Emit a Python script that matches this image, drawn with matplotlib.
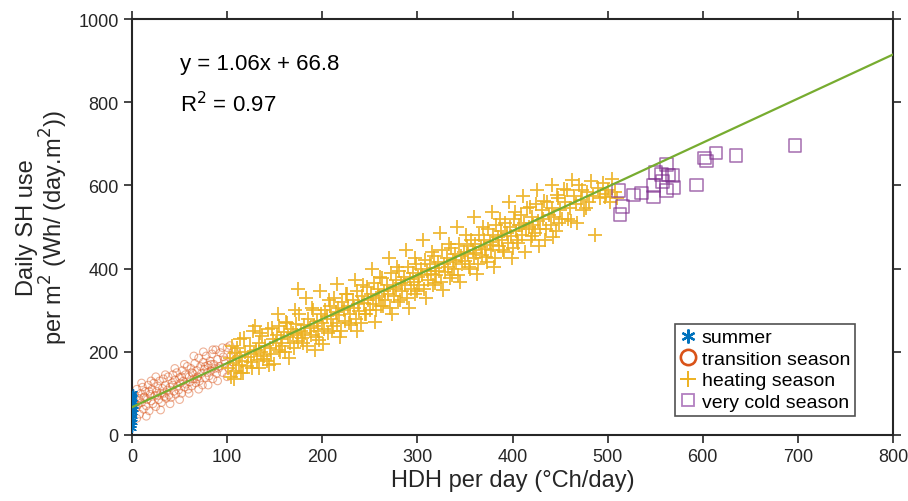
import numpy as np
import matplotlib.pyplot as plt
from matplotlib.lines import Line2D

plt.rcParams['font.family'] = ['Liberation Sans', 'DejaVu Sans']

# summer days (x ~ 0)
summer_x = [0, 0.5, 1, 0, 1.5, 0.5, 1, 0, 2, 0.5, 1, 0, 1.5, 0.5, 1, 0, 0.5, 1, 2, 0.5]
summer_y = [18, 25, 32, 40, 45, 50, 55, 60, 63, 68, 72, 76, 80, 84, 88, 92, 96, 100, 70, 58]

# transition season
trans_x = [1, 2, 3, 4, 5, 6, 7, 8, 9, 10, 11, 12, 13, 14, 15, 16, 17, 18, 19, 20,
           21, 22, 23, 24, 25, 26, 27, 28, 29, 30, 31, 32, 33, 34, 35, 36, 37, 38, 39, 40,
           41, 42, 43, 44, 45, 46, 47, 48, 49, 50, 51, 52, 53, 54, 55, 56, 57, 58, 59, 60,
           61, 62, 63, 64, 65, 66, 67, 68, 69, 70, 71, 72, 73, 74, 75, 76, 77, 78, 79, 80,
           81, 82, 83, 84, 85, 86, 87, 88, 89, 90, 92, 93, 95, 96, 98, 100, 102, 104, 106, 108,
           5, 10, 15, 20, 25, 30, 35, 40, 45, 50, 55, 60, 65, 70, 75, 80, 85, 90, 95, 100,
           103, 107, 3, 12, 18, 27, 33, 43, 52, 63, 68, 77, 83, 91, 97]
trans_y = [55, 80, 95, 65, 110, 72, 88, 50, 100, 78, 115, 62, 92, 105, 70, 85, 120, 58, 98, 82,
           110, 75, 125, 95, 68, 105, 118, 85, 130, 100, 78, 112, 135, 92, 120, 88, 108, 140, 96, 115,
           90, 125, 145, 105, 132, 98, 150, 118, 108, 138, 125, 100, 155, 130, 115, 145, 122, 165, 110, 140,
           128, 160, 118, 148, 135, 172, 125, 155, 140, 185, 130, 165, 148, 120, 175, 158, 138, 190, 150, 168,
           142, 178, 155, 195, 135, 170, 160, 205, 148, 182, 165, 198, 150, 188, 172, 210, 160, 192, 175, 200,
           40, 125, 45, 130, 140, 60, 145, 75, 160, 85, 170, 100, 190, 110, 200, 120, 205, 130, 210, 140,
           215, 150, 75, 90, 105, 95, 100, 120, 140, 150, 135, 165, 170, 160, 180]

# heating season
heat_x = [101, 103, 104, 106, 108, 109, 110, 112, 113, 115, 116, 118, 119, 121, 122, 124, 125,
          127, 128, 130, 131, 133, 134, 136, 137, 139, 140, 142, 143, 145, 146, 148, 149, 151,
          152, 154, 155, 157, 158, 160, 161, 163, 164, 166, 167, 169, 170, 172, 173, 175, 176,
          178, 179, 181, 182, 184, 185, 187, 188, 190, 191, 193, 194, 196, 197, 199,
          200, 202, 203, 205, 206, 208, 209, 211, 212, 214, 215, 217, 218, 220, 221, 223, 224,
          226, 227, 229, 230, 232, 233, 235, 236, 238, 239, 241, 242, 244, 245, 247, 248, 250,
          251, 253, 254, 256, 257, 259, 260, 262, 263, 265, 266, 268, 269, 271, 272, 274, 275,
          277, 278, 280, 281, 283, 284, 286, 287, 289, 290, 292, 293, 295, 296, 298, 299,
          301, 302, 304, 305, 307, 308, 310, 311, 313, 314, 316, 317, 319, 320, 322, 323, 325,
          326, 328, 329, 331, 332, 334, 335, 337, 338, 340, 341, 343, 344, 346, 347, 349,
          350, 352, 353, 355, 356, 358, 359, 361, 362, 364, 365, 367, 368, 370, 371, 373, 374,
          376, 377, 379, 380, 382, 383, 385, 386, 388, 389, 391, 392, 394, 395, 397, 398,
          400, 402, 404, 405, 407, 409, 410, 412, 414, 415, 417, 419, 420, 422, 424, 425, 427,
          429, 431, 432, 434, 436, 438, 440, 442, 444, 446, 448, 450,
          452, 455, 457, 460, 462, 465, 467, 470, 472, 475, 478, 480, 483, 485, 487, 490, 492,
          495, 497, 498, 500, 503, 505, 508, 510,
          105, 107, 114, 117, 126, 129, 135, 138, 144, 147, 153, 156, 162, 165, 171, 174,
          180, 183, 189, 192, 198, 201, 207, 210, 216, 219, 225, 228, 234, 237, 243, 246,
          252, 255, 261, 264, 270, 273, 279, 282, 288, 291, 297, 300, 306, 309, 315, 318,
          324, 327, 333, 336, 342, 345, 351, 354, 360, 363, 369, 372, 378, 381, 387, 390,
          396, 399, 403, 406, 411, 413, 418, 421, 426, 428, 433, 435, 441, 443, 447, 449,
          454, 458, 463, 468, 473, 477]
heat_y = [160, 185, 140, 172, 198, 155, 210, 168, 190, 150, 178, 232, 200, 165, 188, 215, 176,
          250, 195, 205, 180, 222, 160, 200, 238, 190, 215, 178, 255, 210, 195, 230, 170, 220,
          240, 205, 262, 230, 215, 248, 200, 270, 235, 222, 255, 245, 210, 268, 240, 225, 290,
          250, 232, 265, 245, 215, 280, 258, 240, 300, 262, 235, 275, 250, 228, 290,
          270, 255, 300, 285, 245, 310, 280, 262, 330, 295, 270, 305, 288, 250, 320, 300, 275,
          340, 310, 290, 265, 325, 305, 280, 345, 315, 298, 270, 335, 318, 290, 355, 325, 300,
          340, 315, 365, 330, 300, 350, 335, 310, 378, 345, 325, 360, 340, 305, 390, 355, 335,
          372, 350, 320, 395, 365, 345, 380, 360, 330, 405, 375, 352, 390, 368, 340, 410,
          380, 360, 400, 385, 350, 420, 395, 372, 410, 388, 360, 430, 402, 385, 415, 395, 368,
          445, 410, 392, 425, 405, 378, 450, 420, 400, 435, 415, 385, 460, 430, 410, 440,
          418, 455, 435, 400, 470, 445, 425, 460, 438, 410, 480, 452, 432, 470, 448, 415, 495,
          465, 445, 480, 458, 425, 505, 475, 455, 490, 468, 440, 510, 485, 462, 500, 478,
          450, 520, 490, 470, 505, 530, 480, 510, 495, 545, 500, 470, 525, 505, 485, 555, 515,
          495, 540, 520, 470, 560, 530, 505, 545, 525, 490, 570, 540,
          520, 560, 590, 545, 515, 575, 555, 600, 565, 540, 585, 560, 610, 575, 480, 595, 570,
          605, 572, 580, 590, 560, 615, 585, 570,
          215, 135, 230, 150, 160, 262, 245, 182, 168, 258, 290, 200, 272, 185, 300, 350,
          220, 330, 305, 205, 345, 218, 325, 250, 362, 235, 340, 270, 372, 250, 360, 290,
          400, 272, 380, 310, 425, 292, 405, 325, 445, 305, 425, 345, 468, 330, 440, 365,
          485, 348, 460, 385, 500, 368, 482, 405, 525, 388, 500, 428, 535, 405, 520, 445,
          560, 425, 535, 462, 575, 440, 548, 478, 590, 455, 562, 495, 600, 475, 578, 510,
          592, 520, 612, 510, 590, 545]

# very cold season
cold_x = [513, 516, 511, 527, 536, 548, 548, 550, 557, 562, 564, 568, 562, 569, 558,
          593, 602, 604, 614, 635, 697]
cold_y = [531, 550, 587, 577, 582, 572, 599, 632, 627, 651, 625, 623, 587, 596, 610,
          601, 666, 659, 678, 672, 697]

slope, intercept = 1.06, 66.8
line_x = np.array([0, 800])

fig = plt.figure(figsize=(9.08, 5.02), dpi=100)
ax = fig.add_axes([0.1454, 0.1315, 0.8381, 0.8285])

blue = '#0072BD'
orange = '#D95319'
yellow = '#EDB120'
purple = '#7E2F8E'
green = '#77AC30'

ax.scatter(trans_x, trans_y, s=30, facecolors='none', edgecolors=orange,
           linewidths=0.8, alpha=0.45, zorder=2)
ax.scatter(summer_x, summer_y, s=30, marker=(6, 2, 0), color=blue,
           linewidths=1.0, zorder=3)
ax.scatter(heat_x, heat_y, s=100, marker='+', color=yellow, linewidths=1.3,
           alpha=0.9, zorder=2)
ax.scatter(cold_x, cold_y, s=85, marker='s', facecolors='none', edgecolors=purple,
           linewidths=1.1, alpha=0.7, zorder=3)
ax.plot(line_x, slope * line_x + intercept, color=green, lw=1.6, zorder=4)

ax.set_xlim(0, 800)
ax.set_ylim(0, 1000)
ax.set_xticks(np.arange(0, 801, 100))
ax.set_yticks(np.arange(0, 1001, 200))
ax.tick_params(direction='out', length=6, width=1.2, labelsize=13,
               top=True, right=True, colors='#262626')
for s in ax.spines.values():
    s.set_linewidth(1.5)
    s.set_color('#262626')

ax.set_xlabel('HDH per day (°Ch/day)', fontsize=17, color='#262626', labelpad=3)
ax.set_ylabel('Daily SH use\nper m$^2$ (Wh/ (day.m$^2$))', fontsize=17,
              color='#262626', labelpad=6, linespacing=1.0)

ax.text(0.063, 0.892, 'y = 1.06x + 66.8', transform=ax.transAxes,
        fontsize=16, va='center', ha='left')
ax.text(0.063, 0.796, 'R$^2$ = 0.97', transform=ax.transAxes,
        fontsize=16, va='center', ha='left')

handles = [
    Line2D([], [], ls='none', marker=(6, 2, 0), color=blue, markersize=10, mew=1.6),
    Line2D([], [], ls='none', marker='o', mfc='none', mec=orange, markersize=11, mew=1.9),
    Line2D([], [], ls='none', marker='+', color=yellow, markersize=12, mew=1.4),
    Line2D([], [], ls='none', marker='s', mfc='none', mec='#B27FC0', markersize=8, mew=1.3),
]
labels = ['summer', 'transition season', 'heating season', 'very cold season']
leg = ax.legend(handles, labels, loc='lower right', bbox_to_anchor=(0.95, 0.046),
                fontsize=14, frameon=True, fancybox=False, handlelength=0.8,
                handletextpad=0.3, borderpad=0.25, labelspacing=0.2, borderaxespad=0)
leg.get_frame().set_edgecolor('#262626')
leg.get_frame().set_linewidth(1.2)

fig.savefig('out.png', dpi=100)
